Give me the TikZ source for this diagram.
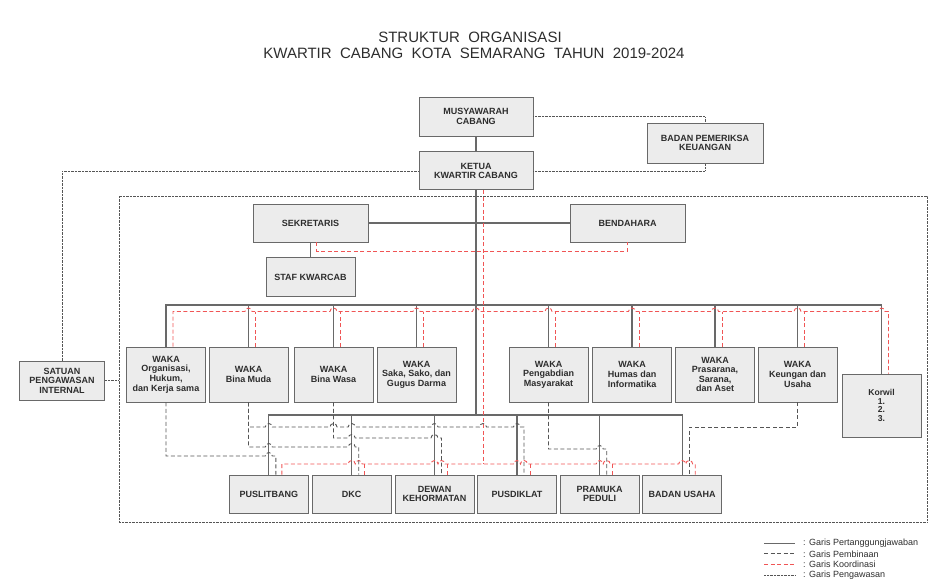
\documentclass[tikz,border=0pt]{standalone}
\usepackage{fontspec}
\setmainfont{Liberation Sans}
\usepackage{xcolor}
\definecolor{kwfill}{RGB}{236,236,236}
\definecolor{kwline}{RGB}{105,105,105}
\definecolor{kwdash}{RGB}{85,85,85}
\definecolor{kwtext}{RGB}{45,45,45}
\definecolor{kwred}{RGB}{240,85,85}
\usetikzlibrary{positioning,calc}

\begin{document}
\begin{tikzpicture}[x=1pt,y=-1pt,
  box/.style={draw=kwline,fill=kwfill,line width=0.9pt,inner sep=1pt,align=center,
    text=kwtext,font=\fontsize{9}{9.6}\selectfont\bfseries},
  waka/.style={box,minimum width=79pt,minimum height=55pt},
  bawah/.style={box,minimum width=79pt,minimum height=38pt},
  tanggung/.style={kwline,line width=1.1pt},
  bina/.style={kwdash,line width=0.9pt,dash pattern=on 4pt off 2.5pt},
  koord/.style={kwred,line width=0.9pt,dash pattern=on 4pt off 2.5pt},
  awas/.style={kwdash,line width=0.6pt,dash pattern=on 0.7pt off 0.7pt},
  judul/.style={text=kwtext,font=\fontsize{15}{16}\selectfont},
  ket/.style={text=kwtext,font=\fontsize{9}{10}\selectfont,anchor=west,inner sep=0pt}]
  \useasboundingbox (0,0) rectangle (941,587);

  % judul
  \node[judul] (judul1) at (470,37) {STRUKTUR~~ORGANISASI};
  \node[judul] (judul2) at (474,53) {KWARTIR~~CABANG~~KOTA~~SEMARANG~~TAHUN~~2019-2024};

  % bingkai kwarcab
  \node[draw,awas,minimum width=808pt,minimum height=326pt,inner sep=0pt] (wilayah) at (523,359) {};

  % pimpinan
  \node[box,minimum width=114pt,minimum height=39pt] (mus) at (476,116.5) {MUSYAWARAH\\CABANG};
  \node[box,minimum width=114pt,minimum height=38pt,below=15pt of mus] (ketua) {KETUA\\KWARTIR CABANG};
  \node[box,minimum width=116pt,minimum height=40pt] (bpk) at (705,143) {BADAN PEMERIKSA\\KEUANGAN};
  \node[box,minimum width=85pt,minimum height=39pt] (satuan) at (62,380.5) {SATUAN\\PENGAWASAN\\INTERNAL};
  \node[box,minimum width=115pt,minimum height=38pt] (sek) at (310.5,223) {SEKRETARIS};
  \node[box,minimum width=115pt,minimum height=38pt] (bend) at (627.5,223) {BENDAHARA};
  \node[box,minimum width=89pt,minimum height=39pt,below=15pt of sek] (staf) {STAF KWARCAB};

  % waka
  \node[waka] (org) at (166,374.5) {WAKA\\Organisasi,\\Hukum,\\dan Kerja sama};
  \node[waka] (muda) at (248.5,374.5) {WAKA\\Bina Muda};
  \node[waka] (wasa) at (333.5,374.5) {WAKA\\Bina Wasa};
  \node[waka] (saka) at (416.5,374.5) {WAKA\\Saka, Sako, dan\\Gugus Darma};
  \node[waka] (peng) at (548.5,374.5) {WAKA\\Pengabdian\\Masyarakat};
  \node[waka] (humas) at (632,374.5) {WAKA\\Humas dan\\Informatika};
  \node[waka] (pras) at (715,374.5) {WAKA\\Prasarana,\\Sarana,\\dan Aset};
  \node[waka] (keu) at (797.5,374.5) {WAKA\\Keungan dan\\Usaha};
  \node[box,minimum width=79pt,minimum height=63pt,font=\fontsize{8.6}{8.8}\selectfont\bfseries] (korwil) at (881.5,405.5) {Korwil\\1.\\2.\\3.};

  % badan pembantu
  \node[bawah] (pusl) at (268.8,494) {PUSLITBANG};
  \node[bawah] (dkc) at (351.7,494) {DKC};
  \node[bawah] (dewan) at (434.5,494) {DEWAN\\KEHORMATAN};
  \node[bawah] (pusd) at (517,494) {PUSDIKLAT};
  \node[bawah] (pram) at (599.7,494) {PRAMUKA\\PEDULI};
  \node[bawah] (bu) at (682.2,494) {BADAN USAHA};

  % garis pertanggungjawaban
  \coordinate (wb) at (476,305);
  \coordinate (bb) at (476,415);
  \draw[tanggung] (mus) -- (ketua);
  \draw[tanggung] (sek) -- (bend);
  \draw[tanggung] (sek) -- (staf);
  \draw[tanggung] (ketua.south) -- (bb);
  \draw[tanggung] (org.north) |- (wb) -| (korwil.north);
  \foreach \n in {muda,wasa,saka,peng,humas,pras,keu} \draw[tanggung] (\n.north) -- (\n.north |- wb);
  \draw[tanggung] (pusl.north) |- (bb) -| (bu.north);
  \foreach \n in {dkc,dewan,pusd,pram} \draw[tanggung] (\n.north) -- (\n.north |- bb);

  % garis koordinasi
  \coordinate (rb) at (483,311.5);
  \coordinate (rbb) at (483,464);
  \draw[koord] ([xshift=7pt]ketua.south) -- (rbb);
  \draw[koord] ([xshift=6pt]sek.south) -- ++(0,8.5) -| (bend.south);
  \draw[koord] ([xshift=7pt]org.north) -- ($(org.north |- rb)+(7,0)$)
    \foreach \n in {muda,wasa,saka,ketua,peng,humas,pras,keu,korwil}
      { -- ($(\n.center |- rb)+(-3.5,0)$) arc[start angle=180,end angle=0,radius=3.5pt] }
    -| ([xshift=7pt]korwil.north);
  \foreach \n in {muda,wasa,saka,peng,humas,pras,keu} \draw[koord] ([xshift=7pt]\n.north) -- ($(\n.north |- rb)+(7,0)$);
  \draw[koord] ([xshift=13pt]pusl.north) -- ($(pusl.north |- rbb)+(13,0)$)
    \foreach \n/\d in {dkc/0,dkc/7,dewan/0,dewan/7,pusd/0,pusd/7,pram/0,pram/7,bu/0,bu/7}
      { -- ($(\n.center |- rbb)+(\d-3.5,0)$) arc[start angle=180,end angle=0,radius=3.5pt] }
    -| ([xshift=13pt]bu.north);
  \foreach \n in {dkc,dewan,pusd,pram} \draw[koord] ([xshift=13pt]\n.north) -- ($(\n.north |- rbb)+(13,0)$);

  % garis pembinaan
  \draw[bina] (org.south) -- (org.south |- 0,456)
    -- ($(pusl.center |- 0,456)+(-3.5,0)$) arc[start angle=180,end angle=0,radius=3.5pt]
    -| ([xshift=7pt]pusl.north);
  \draw[bina] (muda.south) -- (muda.south |- 0,427)
    \foreach \n/\d in {pusl/0,wasa/0,dkc/0,dewan/0,ketua/7,pusd/0}
      { -- ($(\n.center |- 0,427)+(\d-3.5,0)$) arc[start angle=180,end angle=0,radius=3.5pt] }
    -| ([xshift=7pt]pusd.north);
  \draw[bina] (muda.south) -- (muda.south |- 0,447)
    \foreach \n in {pusl,dkc}
      { -- ($(\n.center |- 0,447)+(-3.5,0)$) arc[start angle=180,end angle=0,radius=3.5pt] }
    -| ([xshift=7pt]dkc.north);
  \draw[bina] (wasa.south) -- (wasa.south |- 0,438)
    \foreach \n in {dkc,dewan}
      { -- ($(\n.center |- 0,438)+(-3.5,0)$) arc[start angle=180,end angle=0,radius=3.5pt] }
    -| ([xshift=7pt]dewan.north);
  \draw[bina] (peng.south) -- (peng.south |- 0,449)
    -- ($(pram.center |- 0,449)+(-3.5,0)$) arc[start angle=180,end angle=0,radius=3.5pt]
    -| ([xshift=7pt]pram.north);
  \draw[bina] (keu.south) -- (keu.south |- 0,427) -| ([xshift=7pt]bu.north);

  % garis pengawasan
  \draw[awas] (mus.east) -| (bpk.north);
  \draw[awas] (ketua.east) -| (bpk.south);
  \draw[awas] (ketua.west) -| (satuan.north);
  \draw[awas] (satuan.east) -- (satuan.east -| wilayah.west);

  % keterangan
  \foreach \s/\t [count=\i] in {tanggung/Pertanggungjawaban,bina/Pembinaan,koord/Koordinasi,awas/Pengawasan}{
    \coordinate (ka\i) at (764,532.4+10.7*\i);
    \coordinate (kb\i) at (795,532.4+10.7*\i);
    \draw[\s,line width=0.7pt] (ka\i) -- (kb\i);
    \node[ket] (kt\i) at (803,532.4+10.7*\i) {: Garis \t};
  }
\end{tikzpicture}
\end{document}
